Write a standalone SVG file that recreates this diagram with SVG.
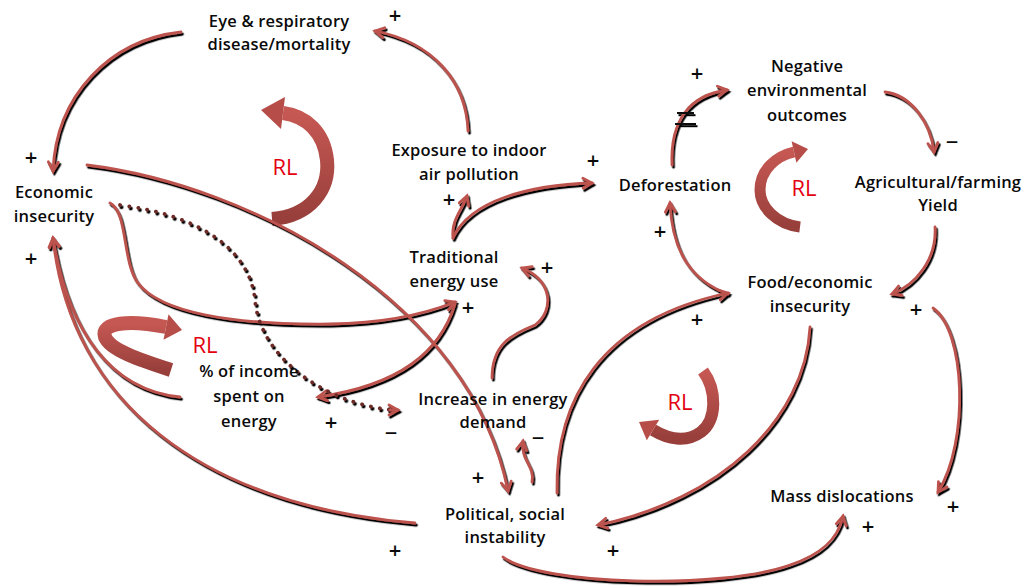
<svg xmlns="http://www.w3.org/2000/svg" width="1024" height="587" viewBox="0 0 1024 587">
  <style>
    .lbl { font-family: "Open Sans", "Liberation Sans", sans-serif; font-size: 16.5px; font-weight: 600; letter-spacing: 0.2px; fill: #0a0a0a; text-anchor: middle; }
    .sign { font-family: "Open Sans", "Liberation Sans", sans-serif; font-size: 22px; font-weight: 600; fill: #0a0a0a; text-anchor: middle; dominant-baseline: central; }
    .rl { font-family: "Open Sans", "Liberation Sans", sans-serif; font-size: 22px; fill: #e3000f; text-anchor: middle; }
    .link { fill: none; stroke: #bd524e; stroke-width: 2.8; stroke-linecap: round; marker-end: url(#head); }
    .dots { fill: none; stroke: #6e2a27; stroke-width: 3.8; stroke-linecap: round; stroke-dasharray: 0.1 9; }
    .band { fill: none; stroke: url(#loopFill); stroke-linecap: butt; }
    .tip { fill: #b64d49; }
    .delay { stroke: #0a0a0a; stroke-width: 2; }
  </style>
  <defs>
    <marker id="head" markerUnits="userSpaceOnUse" orient="auto" refX="0" refY="0" markerWidth="20" markerHeight="20" overflow="visible">
      <path d="M-9,-5 L0,0 L-9,5" fill="none" stroke="#bd524e" stroke-width="2.8" stroke-linejoin="miter" stroke-linecap="round"/>
    </marker>
    <filter id="shade" x="-5%" y="-5%" width="110%" height="110%">
      <feDropShadow dx="1.5" dy="2.2" stdDeviation="0.25" flood-color="#000" flood-opacity="1"/>
    </filter>
    <linearGradient id="loopFill" x1="0" y1="0" x2="0" y2="1">
      <stop offset="0" stop-color="#c65853"/>
      <stop offset="1" stop-color="#983f3b"/>
    </linearGradient>
  </defs>

  <!-- reinforcing-loop markers -->
  <g id="loops">
    <path class="band" stroke-width="14" d="M272,219 C310,216 330,190 327,160 C324,132 306,116 283,113"/>
    <polygon class="tip" points="261,110 285,97 281,129"/>
    <path class="band" stroke-width="11" d="M800,227 C776,224 760,207 760,190 C760,170 776,156 794,152"/>
    <polygon class="tip" points="808,149 791.6,141.3 796.4,162.7"/>
    <path class="band" stroke-width="14" d="M171,370 C140,360 110,350 105,337 C100,322 130,320 166,327"/>
    <polygon class="tip" points="182,330 168.5,314.3 163.5,339.7"/>
    <path class="band" stroke-width="12" d="M703,371 C717,390 717,420 701,432 C686,443 668,439 653,430"/>
    <polygon class="tip" points="639,422 659.2,419.7 646.8,440.3"/>
    <text class="rl" x="285" y="175">RL</text>
    <text class="rl" x="804" y="196">RL</text>
    <text class="rl" x="205" y="353">RL</text>
    <text class="rl" x="680" y="410">RL</text>
  </g>

  <!-- causal links -->
  <g id="connectors" filter="url(#shade)">
    <path class="link" d="M468,131 C466,80 432,42 375,31"/>
    <path class="link" d="M181,32 C110,40 56,95 53,171"/>
    <path class="link" d="M87,165 C250,185 470,300 508,491"/>
    <path class="link" d="M110,203 C128,212 122,262 138,283 C160,312 230,325 330,324 C390,323 430,312 455,302"/>
    <path class="link" d="M455,304 C440,352 400,385 318,397"/>
    <path class="dots" d="M120,205 C200,215 250,250 255,300 C260,360 330,405 394,410"/>
    <path class="link" d="M390,410 L398,410"/>
    <path class="link" d="M180,397 C110,390 68,330 53,238"/>
    <path class="link" d="M415,523 C200,505 70,400 53,238"/>
    <path class="link" d="M453,238 C451,220 462,210 467,196"/>
    <path class="link" d="M453,238 C470,200 530,185 592,183"/>
    <path class="link" d="M492,378 C492,345 510,335 535,325 C555,310 552,280 522,268"/>
    <path class="link" d="M532,482 C535,465 520,460 523,441"/>
    <path class="link" d="M557,493 C555,400 600,320 728,293"/>
    <path class="link" d="M728,294 C690,280 672,250 670,203"/>
    <path class="link" d="M672,165 C670,120 690,95 727,90"/>
    <path class="link" d="M885,92 C910,95 930,120 934,152"/>
    <path class="link" d="M935,227 C937,260 915,285 892,294"/>
    <path class="link" d="M810,327 C805,420 720,500 598,525"/>
    <path class="link" d="M933,308 C965,330 970,440 938,492"/>
    <path class="link" d="M503,557 C540,585 720,590 790,565 C820,555 838,540 843,516"/>
    <line class="delay" x1="677" y1="113" x2="694" y2="113"/>
    <line class="delay" x1="675" y1="124" x2="696" y2="124"/>
  </g>

  <!-- polarity signs -->
  <g id="signs">
    <text class="sign" x="395" y="14">+</text>
    <text class="sign" x="31" y="156">+</text>
    <text class="sign" x="31" y="257">+</text>
    <text class="sign" x="593" y="159">+</text>
    <text class="sign" x="449" y="198">+</text>
    <text class="sign" x="697" y="72">+</text>
    <text class="sign" x="952" y="141">−</text>
    <text class="sign" x="660" y="230">+</text>
    <text class="sign" x="547" y="266">+</text>
    <text class="sign" x="468" y="306">+</text>
    <text class="sign" x="697" y="318">+</text>
    <text class="sign" x="916" y="308">+</text>
    <text class="sign" x="331" y="421">+</text>
    <text class="sign" x="391" y="432">−</text>
    <text class="sign" x="538" y="437">−</text>
    <text class="sign" x="478" y="476">+</text>
    <text class="sign" x="953" y="505">+</text>
    <text class="sign" x="868" y="525">+</text>
    <text class="sign" x="395" y="549">+</text>
    <text class="sign" x="613" y="549">+</text>
  </g>

  <g id="eye-disease"><text class="lbl" x="279" y="27">Eye &amp; respiratory</text><text class="lbl" x="279" y="50">disease/mortality</text></g>
  <g id="economic-insecurity"><text class="lbl" x="54" y="198">Economic</text><text class="lbl" x="54" y="222">insecurity</text></g>
  <g id="indoor-air"><text class="lbl" x="469" y="156">Exposure to indoor</text><text class="lbl" x="469" y="180">air pollution</text></g>
  <g id="traditional-energy"><text class="lbl" x="454" y="263">Traditional</text><text class="lbl" x="454" y="287">energy use</text></g>
  <g id="deforestation"><text class="lbl" x="675" y="191">Deforestation</text></g>
  <g id="negative-env"><text class="lbl" x="807" y="72">Negative</text><text class="lbl" x="807" y="96">environmental</text><text class="lbl" x="807" y="121">outcomes</text></g>
  <g id="agri-yield"><text class="lbl" x="938" y="188">Agricultural/farming</text><text class="lbl" x="938" y="211">Yield</text></g>
  <g id="food-insecurity"><text class="lbl" x="810" y="288">Food/economic</text><text class="lbl" x="810" y="312">insecurity</text></g>
  <g id="income-share"><text class="lbl" x="249" y="377">% of income</text><text class="lbl" x="249" y="402">spent on</text><text class="lbl" x="249" y="427">energy</text></g>
  <g id="energy-demand"><text class="lbl" x="493" y="405">Increase in energy</text><text class="lbl" x="493" y="428">demand</text></g>
  <g id="instability"><text class="lbl" x="505" y="520">Political, social</text><text class="lbl" x="505" y="543">instability</text></g>
  <g id="dislocations"><text class="lbl" x="842" y="502">Mass dislocations</text></g>
</svg>
